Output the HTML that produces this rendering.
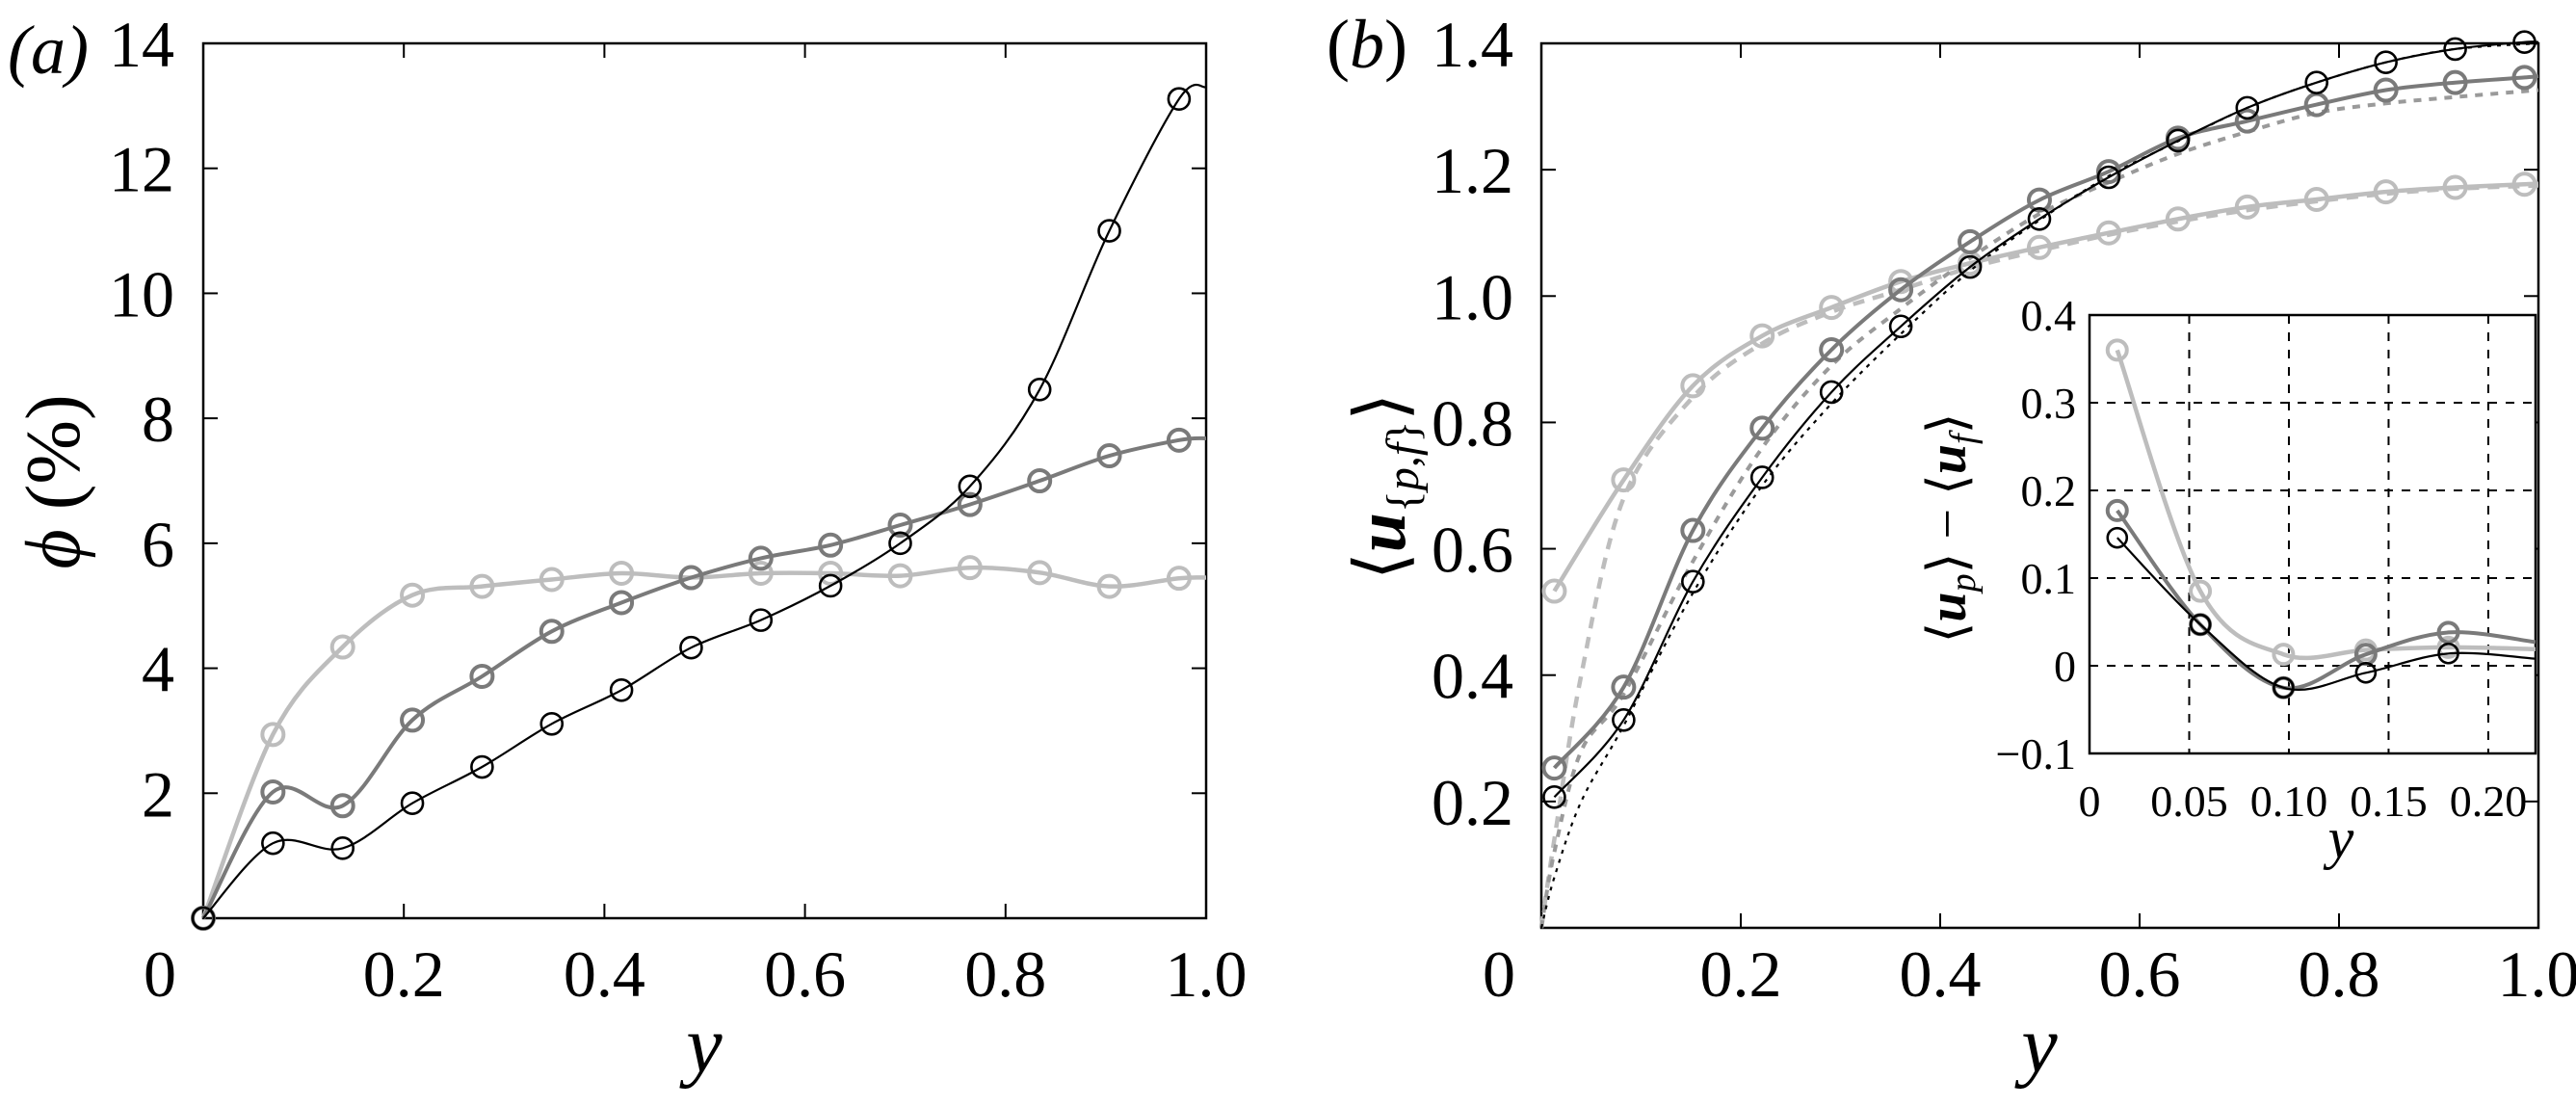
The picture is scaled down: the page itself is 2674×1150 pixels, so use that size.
<!DOCTYPE html>
<html><head><meta charset="utf-8">
<style>
html,body{margin:0;padding:0;background:#fff;}
svg{display:block;}
svg text{font-family:"Liberation Serif","Times New Roman",Times,serif;fill:#000;}
</style></head>
<body>
<svg id="fig" width="2674" height="1150" viewBox="0 0 2674 1150" xmlns="http://www.w3.org/2000/svg" font-family="Liberation Serif, Times New Roman, serif"></svg>
<script>
// ---------- Panel (a) data ----------
const aX = [0.0,0.0695,0.139,0.2085,0.278,0.3475,0.417,0.4865,0.556,0.6255,0.695,0.7645,0.834,0.9035,0.973];
const aBlack = [0,1.2,1.12,1.84,2.42,3.11,3.65,4.33,4.77,5.32,6.0,6.91,8.46,11.0,13.11];
const aMid = [0,2.02,1.8,3.17,3.87,4.59,5.05,5.45,5.76,5.97,6.29,6.62,7.0,7.4,7.65];
const aLight = [0,2.94,4.34,5.17,5.31,5.42,5.52,5.45,5.52,5.52,5.48,5.61,5.53,5.31,5.44];
const aEnd = {black:13.3, mid:7.68, light:5.45};
const aXTicks = [0.2,0.4,0.6,0.8];
const aXTickLabels = ["0.2","0.4","0.6","0.8"];
const aYTicks = [2,4,6,8,10,12,14];
const aYTickLabels = ["2","4","6","8","10","12","14"];

// ---------- Panel (b) data ----------
const bX = [0.013,0.0825,0.152,0.2215,0.291,0.3605,0.43,0.4995,0.569,0.6385,0.708,0.7775,0.847,0.9165,0.986];
const bBlack = [0.207,0.329,0.548,0.713,0.848,0.952,1.046,1.122,1.188,1.246,1.298,1.338,1.37,1.391,1.402];
const bMid = [0.253,0.381,0.629,0.791,0.915,1.01,1.086,1.152,1.197,1.25,1.277,1.303,1.326,1.338,1.346];
const bLight = [0.533,0.709,0.858,0.937,0.982,1.023,1.052,1.077,1.10,1.122,1.141,1.153,1.165,1.172,1.177];
const bEnd = {black:1.402, mid:1.348, light:1.178};
const bFluidX = [0.0,0.013,0.04,0.0825,0.152,0.2215,0.291,0.3605,0.43,0.4995,0.569,0.6385,0.708,0.7775,0.847,0.9165,1.0];
const bFluidBlack = [0.0,0.08,0.2,0.32,0.53,0.70,0.83,0.94,1.04,1.12,1.19,1.245,1.298,1.338,1.37,1.391,1.40];
const bFluidMid = [0.0,0.12,0.28,0.37,0.58,0.76,0.89,0.98,1.06,1.13,1.18,1.225,1.26,1.29,1.305,1.315,1.326];
const bFluidLight = [0.0,0.14,0.40,0.68,0.84,0.925,0.975,1.01,1.045,1.072,1.097,1.118,1.136,1.15,1.162,1.17,1.175];
const bXTicks = [0.2,0.4,0.6,0.8];
const bXTickLabels = ["0.2","0.4","0.6","0.8"];
const bYTicks = [0.2,0.4,0.6,0.8,1.0,1.2,1.4];
const bYTickLabels = ["0.2","0.4","0.6","0.8","1.0","1.2","1.4"];

// ---------- Inset data ----------
const iX = [0.0139,0.0556,0.0973,0.1386,0.18];
const iBlack = [0.146,0.047,-0.025,-0.008,0.014];
const iMid = [0.177,0.047,-0.025,0.013,0.038];
const iLight = [0.36,0.085,0.013,0.018,0.021];
const iEnd = {black:0.008, mid:0.027, light:0.019};
const iXTicks = [0.05,0.10,0.15,0.20];
const iXTickLabels = ["0.05","0.10","0.15","0.20"];
const iYTicks = [-0.1,0,0.1,0.2,0.3,0.4];
const iYTickLabels = ["\u22120.1","0","0.1","0.2","0.3","0.4"];

const NS = "http://www.w3.org/2000/svg";
const svg = document.getElementById('fig');
const FF = '"Liberation Serif","Times New Roman",Times,serif';
function mk(tag, attrs, parent){
  const e = document.createElementNS(NS, tag);
  for (const k in attrs) e.setAttribute(k, attrs[k]);
  if (tag === 'text') e.style.fontFamily = FF;
  (parent||svg).appendChild(e);
  return e;
}
function smooth(pts){
  let d = "M"+pts[0][0].toFixed(1)+","+pts[0][1].toFixed(1);
  for (let i=0;i<pts.length-1;i++){
    const p0=pts[Math.max(0,i-1)], p1=pts[i], p2=pts[i+1], p3=pts[Math.min(pts.length-1,i+2)];
    const c1=[p1[0]+(p2[0]-p0[0])/6, p1[1]+(p2[1]-p0[1])/6];
    const c2=[p2[0]-(p3[0]-p1[0])/6, p2[1]-(p3[1]-p1[1])/6];
    d += " C"+c1[0].toFixed(1)+","+c1[1].toFixed(1)+" "+c2[0].toFixed(1)+","+c2[1].toFixed(1)+" "+p2[0].toFixed(1)+","+p2[1].toFixed(1);
  }
  return d;
}
function axes(L,R,T,B,x0,x1,y0,y1){
  return { sx: v => L+(v-x0)/(x1-x0)*(R-L), sy: v => B-(v-y0)/(y1-y0)*(B-T) };
}
const COL = {black:"#000", mid:"#7a7a7a", light:"#bdbdbd"};
const LW = {black:2.2, mid:4, light:4.5};
const FS = 68;

// ================= Panel (a) =================
const A = axes(211,1252,45,953,0,1,0,14);
const ga = mk('g',{});


let fr = mk('rect',{x:211,y:45,width:1041,height:908,fill:"none",stroke:"#000","stroke-width":2.5},ga);


aXTicks.forEach((v,i)=>{
  const x=A.sx(v);
  mk('line',{x1:x,y1:953,x2:x,y2:938,stroke:"#000","stroke-width":2},ga);
  mk('line',{x1:x,y1:45,x2:x,y2:60,stroke:"#000","stroke-width":2},ga);
  const t=mk('text',{x:x,y:1034,"font-size":FS,"text-anchor":"middle"},ga);
  t.textContent=aXTickLabels[i];
  
  
});
let t0=mk('text',{x:166,y:1034,"font-size":FS,"text-anchor":"middle"},ga); t0.textContent="0";


let t1=mk('text',{x:1252,y:1034,"font-size":FS,"text-anchor":"middle"},ga); t1.textContent="1.0";


aYTicks.forEach((v,i)=>{
  const y=A.sy(v);
  mk('line',{x1:211,y1:y,x2:226,y2:y,stroke:"#000","stroke-width":2},ga);
  mk('line',{x1:1252,y1:y,x2:1237,y2:y,stroke:"#000","stroke-width":2},ga);
  const t=mk('text',{x:181,y:y+24,"font-size":FS,"text-anchor":"end"},ga);
  t.textContent=aYTickLabels[i];
  
  
});
function drawSeries(g, S, xs, ys, endX, endY, key, r, name){
  const pts = xs.map((x,i)=>[S.sx(x),S.sy(ys[i])]);
  pts.push([S.sx(endX),S.sy(endY)]);
  const p = mk('path',{d:smooth(pts),fill:"none",stroke:COL[key],"stroke-width":LW[key]},g);
  
  
  xs.forEach((x,i)=>{
    const c = mk('circle',{cx:S.sx(x),cy:S.sy(ys[i]),r:r,fill:"none",stroke:COL[key],"stroke-width":key==="black"?2.6:4},g);
    
    
  });
}
drawSeries(ga,A,aX,aLight,1,aEnd.light,'light',11,'a-light-series');
drawSeries(ga,A,aX,aMid,1,aEnd.mid,'mid',11,'a-mid-series');
drawSeries(ga,A,aX,aBlack,1,aEnd.black,'black',11,'a-black-series');
let la=mk('text',{x:8,y:76,"font-size":72,"font-style":"italic"},ga); la.textContent="(a)";


let yla=mk('text',{x:0,y:0,"font-size":80,"text-anchor":"middle",transform:"translate(82,500) rotate(-90)"},ga);
yla.innerHTML='<tspan font-style="italic">ϕ</tspan> (%)';


let xla=mk('text',{x:731,y:1112,"font-size":84,"font-style":"italic","text-anchor":"middle"},ga); xla.textContent="y";



// ================= Panel (b) =================
const Bs = axes(1600,2635,45,963,0,1,0,1.4);
const gb = mk('g',{});


let frb = mk('rect',{x:1600,y:45,width:1035,height:918,fill:"none",stroke:"#000","stroke-width":2.5},gb);


bXTicks.forEach((v,i)=>{
  const x=Bs.sx(v);
  mk('line',{x1:x,y1:963,x2:x,y2:948,stroke:"#000","stroke-width":2},gb);
  mk('line',{x1:x,y1:45,x2:x,y2:60,stroke:"#000","stroke-width":2},gb);
  const t=mk('text',{x:x,y:1034,"font-size":FS,"text-anchor":"middle"},gb);
  t.textContent=bXTickLabels[i];
  
  
});
let tb0=mk('text',{x:1556,y:1034,"font-size":FS,"text-anchor":"middle"},gb); tb0.textContent="0";


let tb1=mk('text',{x:2635,y:1034,"font-size":FS,"text-anchor":"middle"},gb); tb1.textContent="1.0";


bYTicks.forEach((v,i)=>{
  const y=Bs.sy(v);
  mk('line',{x1:1600,y1:y,x2:1615,y2:y,stroke:"#000","stroke-width":2},gb);
  mk('line',{x1:2635,y1:y,x2:2620,y2:y,stroke:"#000","stroke-width":2},gb);
  const t=mk('text',{x:1571,y:y+24,"font-size":FS,"text-anchor":"end"},gb);
  t.textContent=bYTickLabels[i];
  
  
});
function drawFluid(g,S,xs,ys,key,dash,w,name,col){
  const pts = xs.map((x,i)=>[S.sx(x),S.sy(ys[i])]);
  const p = mk('path',{d:smooth(pts),fill:"none",stroke:col||COL[key],"stroke-width":w,"stroke-dasharray":dash},g);
  
  
}
drawFluid(gb,Bs,bFluidX,bFluidLight,'light',"12 9",4.5,'b-light-fluid-dashed');
drawFluid(gb,Bs,bFluidX,bFluidMid,'mid',"8 8",4,'b-mid-fluid-dashed','#9a9a9a');
drawFluid(gb,Bs,bFluidX,bFluidBlack,'black',"4 6",2.2,'b-black-fluid-dotted');
drawSeries(gb,Bs,bX,bLight,1,bEnd.light,'light',11,'b-light-series');
drawSeries(gb,Bs,bX,bMid,1,bEnd.mid,'mid',11,'b-mid-series');
drawSeries(gb,Bs,bX,bBlack,1,bEnd.black,'black',11,'b-black-series');
let lb=mk('text',{x:1377,y:70,"font-size":72},gb); lb.innerHTML='(<tspan font-style="italic">b</tspan>)';


let ylb=mk('text',{x:0,y:0,"font-size":74,"text-anchor":"middle",transform:"translate(1458,505) rotate(-90)"},gb);
ylb.innerHTML='⟨<tspan font-style="italic" font-weight="bold">u</tspan><tspan font-size="48" dy="14">{<tspan font-style="italic">p</tspan>,<tspan font-style="italic">f</tspan>}</tspan><tspan dy="-14">⟩</tspan>';


let xlb=mk('text',{x:2117,y:1112,"font-size":84,"font-style":"italic","text-anchor":"middle"},gb); xlb.textContent="y";



// ================= Inset =================
const I = axes(2169,2632,327,782,0,0.2237,-0.1,0.4);
const gi = mk('g',{});


mk('rect',{x:2169,y:327,width:463,height:455,fill:"#fff",stroke:"none"},gi);
iXTicks.forEach((v,i)=>{
  const x=I.sx(v);
  const gl=mk('line',{x1:x,y1:327,x2:x,y2:782,stroke:"#000","stroke-width":2,"stroke-dasharray":"9 9"},gi);
  
  
  const t=mk('text',{x:x,y:847,"font-size":46,"text-anchor":"middle"},gi);
  t.textContent=iXTickLabels[i];
  
  
});
let ti0=mk('text',{x:2169,y:847,"font-size":46,"text-anchor":"middle"},gi); ti0.textContent="0";


iYTicks.forEach((v,i)=>{
  const y=I.sy(v);
  if (v>-0.1){
    const gl=mk('line',{x1:2169,y1:y,x2:2632,y2:y,stroke:"#000","stroke-width":2,"stroke-dasharray":"9 9"},gi);
    
    
  }
  const t=mk('text',{x:2155,y:y+16,"font-size":46,"text-anchor":"end"},gi);
  t.textContent=iYTickLabels[i];
  
  
});
let fri=mk('rect',{x:2169,y:327,width:463,height:455,fill:"none",stroke:"#000","stroke-width":2.5},gi);


drawSeries(gi,I,iX,iLight,0.2237,iEnd.light,'light',10,'inset-light-series');
drawSeries(gi,I,iX,iMid,0.2237,iEnd.mid,'mid',10,'inset-mid-series');
drawSeries(gi,I,iX,iBlack,0.2237,iEnd.black,'black',10,'inset-black-series');
let yli=mk('text',{x:0,y:0,"font-size":56,"text-anchor":"middle",transform:"translate(2040,548) rotate(-90)"},gi);
yli.innerHTML='⟨<tspan font-style="italic" font-weight="bold">u</tspan><tspan font-size="38" dy="10" font-style="italic">p</tspan><tspan dy="-10">⟩ − ⟨</tspan><tspan font-style="italic" font-weight="bold">u</tspan><tspan font-size="38" dy="10" font-style="italic">f</tspan><tspan dy="-10">⟩</tspan>';


let xli=mk('text',{x:2430,y:890,"font-size":60,"font-style":"italic","text-anchor":"middle"},gi); xli.textContent="y";


</script>
</body></html>
